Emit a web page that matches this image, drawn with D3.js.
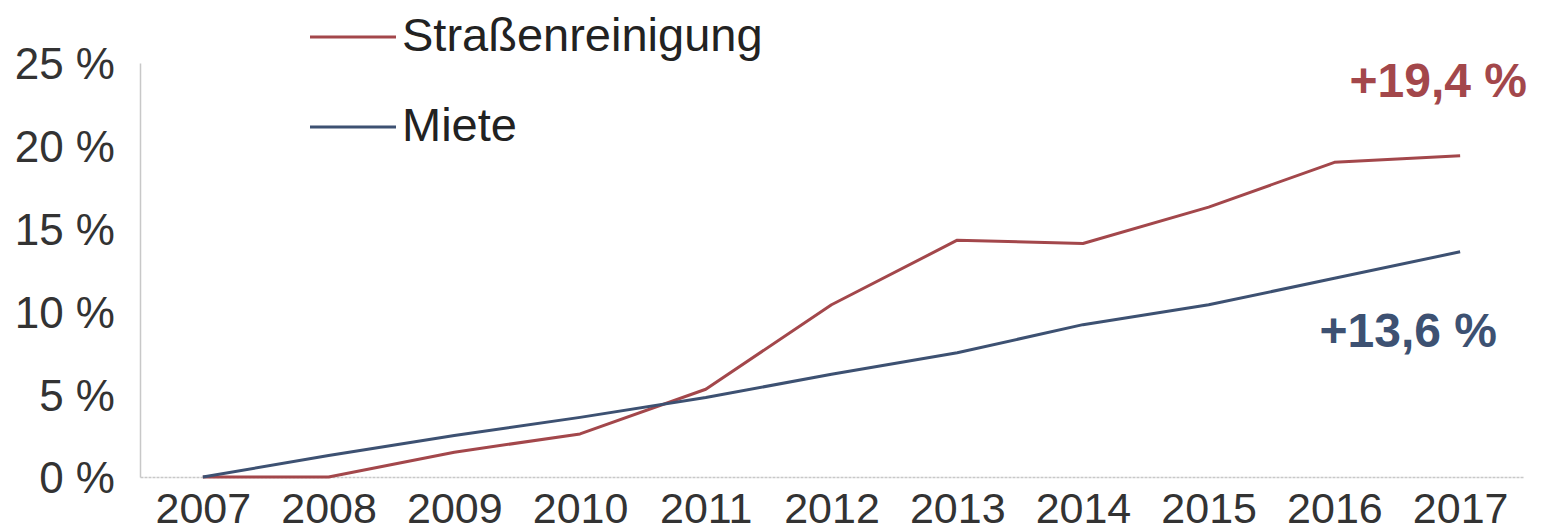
<!DOCTYPE html>
<html lang="de">
<head>
  <meta charset="utf-8">
  <title>Straßenreinigung vs. Miete</title>
  <script src="https://d3js.org/d3.v7.min.js"></script>
  <style>
    body { margin: 0; background: #fff; }
    text { font-family: "Liberation Sans", Arial, sans-serif; }
  </style>
</head>
<body>
<script>
// Jahre und Veränderung gegenüber 2007 (in %)
var years = ["2007", "2008", "2009", "2010", "2011", "2012", "2013", "2014", "2015", "2016", "2017"];
var strassenreinigung = [0, 0, 1.5, 2.6, 5.3, 10.4, 14.3, 14.1, 16.3, 19.0, 19.4];
var miete = [0, 1.3, 2.5, 3.6, 4.8, 6.2, 7.5, 9.2, 10.4, 12.0, 13.6];
var yTicks = [0, 5, 10, 15, 20, 25];
var seriesNames = ["Straßenreinigung", "Miete"];
var endLabels = ["+19,4 %", "+13,6 %"];

var width = 1541, height = 532;
var margin = {top: 63, right: 18, bottom: 55, left: 140};
var colors = ["#a3474b", "#3d5172"];

var svg = d3.select("body").append("svg")
  .attr("width", width)
  .attr("height", height);

var x = d3.scalePoint()
  .domain(years)
  .range([margin.left, width - margin.right])
  .padding(0.5);

var y = d3.scaleLinear()
  .domain([0, 25])
  .range([height - margin.bottom, margin.top]);

// y axis
var yAxis = svg.append("g")
  .attr("transform", "translate(" + margin.left + ",0)")
  .call(d3.axisLeft(y).tickValues(yTicks).tickSize(0).tickPadding(25)
    .tickFormat(function(d) { return d + " %"; }));
yAxis.select(".domain").attr("stroke", "#c8c8c8").attr("stroke-width", 1.5);
yAxis.selectAll("text")
  .attr("font-size", 44)
  .attr("fill", "#333")
  .attr("dy", "0.36em");

// x axis
var xAxis = svg.append("g")
  .attr("transform", "translate(0," + y(0) + ")")
  .call(d3.axisBottom(x).tickSize(0).tickPadding(15));
xAxis.select(".domain")
  .attr("stroke", "#c8c8c8")
  .attr("stroke-width", 1.5)
  .attr("stroke-dasharray", "3,1");
xAxis.selectAll("text")
  .attr("font-size", 43)
  .attr("fill", "#333")
  .attr("dy", "0.71em");

var line = d3.line()
  .x(function(d, i) { return x(years[i]); })
  .y(function(d) { return y(d); });

[strassenreinigung, miete].forEach(function(vals, k) {
  svg.append("path")
    .datum(vals)
    .attr("fill", "none")
    .attr("stroke", colors[k])
    .attr("stroke-width", 3)
    .attr("stroke-linejoin", "round")
    .attr("d", line);
});

// legend
var legend = svg.append("g");
seriesNames.forEach(function(name, k) {
  var ly = 37 + k * 90;
  legend.append("line")
    .attr("x1", 310).attr("x2", 396)
    .attr("y1", ly).attr("y2", ly)
    .attr("stroke", colors[k])
    .attr("stroke-width", 3);
  legend.append("text")
    .attr("x", 402)
    .attr("y", ly - 3)
    .attr("dy", "0.36em")
    .attr("font-size", 47)
    .attr("fill", "#222")
    .text(name);
});

// end labels
svg.append("text")
  .attr("x", 1527)
  .attr("y", 80)
  .attr("dy", "0.36em")
  .attr("text-anchor", "end")
  .attr("font-size", 48)
  .attr("font-weight", "bold")
  .attr("fill", colors[0])
  .text(endLabels[0]);
svg.append("text")
  .attr("x", 1497)
  .attr("y", 330)
  .attr("dy", "0.36em")
  .attr("text-anchor", "end")
  .attr("font-size", 48)
  .attr("font-weight", "bold")
  .attr("fill", colors[1])
  .text(endLabels[1]);
</script>
</body>
</html>
